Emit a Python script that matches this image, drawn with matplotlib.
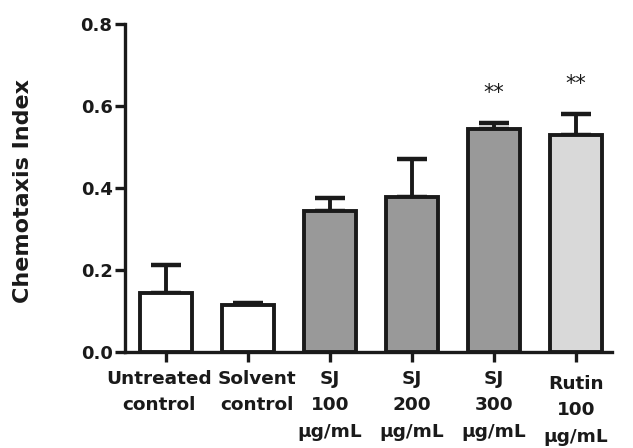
import matplotlib
matplotlib.use("Agg")
import matplotlib.pyplot as plt
import matplotlib.transforms as mtransforms

categories = ["Untreated\ncontrol", "Solvent\ncontrol", "SJ\n100\nµg/mL",
              "SJ\n200\nµg/mL", "SJ\n300\nµg/mL", "Rutin\n100\nµg/mL"]
means = [0.143, 0.114, 0.344, 0.378, 0.544, 0.529]
errors = [0.069, 0.006, 0.032, 0.093, 0.014, 0.051]
significance = ["", "", "", "", "**", "**"]
colors = ["#ffffff", "#ffffff", "#999999", "#999999", "#999999", "#d9d9d9"]
yticks = [0.0, 0.2, 0.4, 0.6, 0.8]

# label nudges in pixels (layout only)
label_dx = [-7, 9, 0, 0, 0, 0]
label_dy = [0, 0, 0, 0, 0, -5]

plt.rcParams['font.family'] = ['DejaVu Sans']
ink = "#1a1a1a"

fig = plt.figure(figsize=(6.33, 4.48), dpi=100)
ax = fig.add_axes([125/633, 1-352/448, (612-125)/633, (352-24)/448])

x = list(range(len(categories)))
ax.bar(x, means, width=0.64, color=colors, edgecolor=ink, linewidth=2.8, zorder=3)
eb = ax.errorbar(x, means, yerr=[[0]*len(errors), errors], fmt='none', ecolor=ink,
                 elinewidth=2.8, capsize=11, capthick=3.2, zorder=2)
for c in eb[1]:
    c.set_solid_capstyle('round')

for xi, m, e, s in zip(x, means, errors, significance):
    if s:
        ax.text(xi, m + e + 0.074, s, ha='center', va='center', fontsize=15, color=ink)

ax.set_xlim(-0.5, 5.44)
ax.set_ylim(0, 0.8)
ax.set_yticks(yticks)
ax.set_yticklabels([f"{v:.1f}" for v in yticks], fontsize=13, fontweight='bold')
ax.set_xticks(x)
ax.set_xticklabels(categories, fontsize=13.3, fontweight='bold', va='top',
                   linespacing=1.6, ha='center')
ax.tick_params(axis='both', width=2.4, length=7, color=ink, labelcolor=ink)
ax.tick_params(axis='x', pad=6)
ax.tick_params(axis='y', pad=2)
for lab, dx, dy in zip(ax.get_xticklabels(), label_dx, label_dy):
    lab.set_transform(lab.get_transform() +
                      mtransforms.ScaledTranslation(dx/100, dy/100, fig.dpi_scale_trans))
for sp in ['top', 'right']:
    ax.spines[sp].set_visible(False)
for sp in ['left', 'bottom']:
    ax.spines[sp].set_linewidth(2.4)
    ax.spines[sp].set_color(ink)
ax.set_ylabel("Chemotaxis Index", fontsize=16, fontweight='bold', color=ink, va='center')
ax.yaxis.set_label_coords(-0.209, 0.49)

fig.savefig("out.png", dpi=100)
